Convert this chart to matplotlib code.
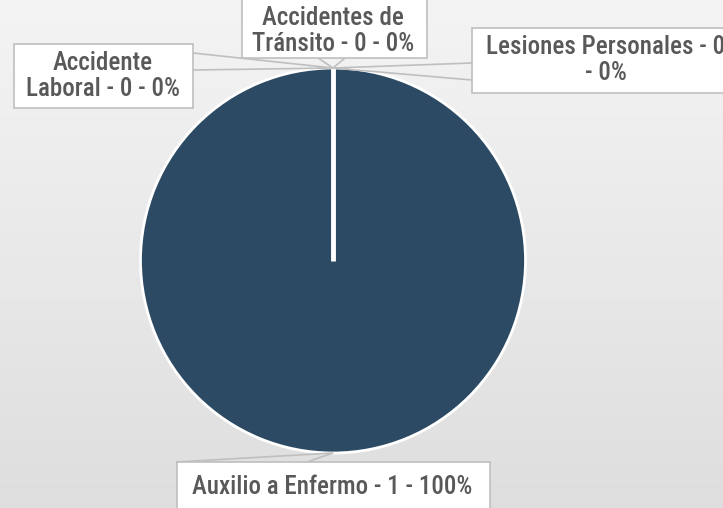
import numpy as np
import matplotlib.pyplot as plt
from matplotlib.colors import LinearSegmentedColormap
from matplotlib.patches import Rectangle

# data
categories = ["Accidente Laboral", "Accidentes de Tránsito", "Lesiones Personales", "Auxilio a Enfermo"]
values = [0, 0, 0, 1]
label_texts = ["Accidente\nLaboral - 0 - 0%",
               "Accidentes de\nTránsito - 0 - 0%",
               "Lesiones Personales - 0\n- 0%",
               "Auxilio a Enfermo - 1 - 100%"]

W, H = 723, 508
fig = plt.figure(figsize=(W / 100, H / 100), dpi=100)
ax = fig.add_axes([0, 0, 1, 1])

# background gradient (light at top, darker at bottom)
grad = np.linspace(0, 1, 256).reshape(-1, 1)
bg = LinearSegmentedColormap.from_list("bg", ["#f4f4f4", "#dedede"])
ax.imshow(grad, cmap=bg, extent=[0, W, 0, H], origin="upper", aspect="auto", zorder=0)

cx, cy, r = 333, H - 260.5, 192.5
wedges, _ = ax.pie(values, startangle=90, counterclock=False, center=(cx, cy), radius=r,
                   colors=["#4a6d8c", "#7f9fbf", "#a5bfd6", "#2c4a63"],
                   wedgeprops=dict(edgecolor="white", linewidth=2))
for w in wedges:
    w.set_zorder(2)

# radial edge of the full slice (matplotlib leaves it out for a 360 deg wedge)
big = wedges[int(np.argmax(values))]
a = np.deg2rad(big.theta2)
ax.plot([cx, cx + r * np.cos(a)], [cy, cy + r * np.sin(a)], color="white", lw=3.5,
        solid_capstyle="butt", zorder=3)

ax.set_xlim(0, W)
ax.set_ylim(0, H)
ax.set_aspect("auto")
ax.axis("off")

font = ["Roboto Condensed", "DejaVu Sans"]
tcol = "#595959"
ecol = "#bfbfbf"

# label boxes (x0, y0, x1, y1) in pixels from top-left, tail base points, text centre
boxes = [
    ((14, 44, 193, 108), [(193, 53), (193, 70)], (103, 76)),
    ((242, -5, 427, 58), [(318, 58), (345, 58)], (333, 31)),
    ((472, 28, 735, 93), [(472, 63), (472, 80)], (606, 60)),
    ((177, 462, 490, 520), [(177, 462), (307, 462)], (332, 487)),
]

for i, (w, (box, tail, tc)) in enumerate(zip(wedges, boxes)):
    ang = np.deg2rad((w.theta1 + w.theta2) / 2)
    px, py = cx + r * np.cos(ang), cy + r * np.sin(ang)
    x0, y0, x1, y1 = box
    ax.add_patch(Rectangle((x0, H - y1), x1 - x0, y1 - y0, facecolor="white",
                           edgecolor=ecol, linewidth=1.2, zorder=4))
    (ax_, ay_), (bx_, by_) = tail
    ax.plot([ax_, px, bx_], [H - ay_, py, H - by_], color=ecol, lw=1.2, zorder=3)
    ax.text(tc[0], H - tc[1], label_texts[i], ha="center", va="center", fontsize=18,
            color=tcol, family=font, fontweight=500, linespacing=1.12, zorder=5)

fig.savefig("out.png", dpi=100)
